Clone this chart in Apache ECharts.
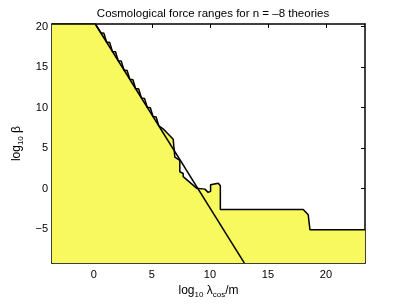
<!DOCTYPE html>
<html>
<head>
<meta charset="utf-8">
<script src="https://cdn.jsdelivr.net/npm/echarts@6/dist/echarts.min.js"></script>
<style>html,body{margin:0;padding:0;background:#fff}#c{width:403px;height:304px}</style>
</head>
<body>
<div id="c"></div>
<script>
// ---- data ----
const xTicks = [0, 5, 10, 15, 20];
const yTicks = [-5, 0, 5, 10, 15, 20];
const xRange = [-3.6, 23.36];
const yRange = [-9.18, 20.33];
// jagged upper edge (along the diagonal)
const upperEdge = [
  [-3.6, 20.33], [0.13, 20.33],
  [0.6, 19.25], [0.87, 19.2], [1.1, 18.10], [1.37, 18.05], [1.6, 16.95], [1.87, 16.9],
  [2.1, 15.80], [2.37, 15.75], [2.6, 14.66], [2.87, 14.6], [3.1, 13.51], [3.37, 13.45],
  [3.6, 12.36], [3.87, 12.3], [4.1, 11.21], [4.37, 11.15], [4.6, 10.06], [4.87, 10.0],
  [5.1, 8.91], [5.37, 8.85], [5.6, 7.76], [6.03, 7.32], [6.84, 6.11], [6.98, 5.92]
];
// lower / right edge of the allowed region
const lowerEdge = [
  [6.98, 3.90], [7.41, 3.50], [7.41, 2.09], [7.70, 1.88], [7.70, 1.49], [8.85, 0.07],
  [9.57, -0.05], [9.85, -0.45], [10.06, -0.33], [10.06, 0.48], [10.23, 0.68],
  [10.72, 0.68], [10.9, 0.36], [10.9, -2.56], [18.04, -2.56], [18.47, -3.22],
  [18.62, -5.07], [23.36, -5.07]
];
// straight diagonal bound
const cutLine = [[0.13, 20.33], [12.97, -9.18]];

const FONT = '"Liberation Sans", Arial, Helvetica, sans-serif';
const fmt = v => String(v).replace('-', '\u2212');
const rich = {
  a: { fontSize: 12, lineHeight: 16, fontFamily: FONT, color: '#000' },
  b: { fontSize: 8, lineHeight: 8, verticalAlign: 'bottom', fontFamily: FONT, color: '#000' }
};

const chart = echarts.init(document.getElementById('c'), null, { renderer: 'canvas' });
const axisLine = { show: true, onZero: false, lineStyle: { color: '#000', width: 1.5 } };
const tick = vals => ({ show: true, inside: true, length: 4, customValues: vals, lineStyle: { color: '#000', width: 1 } });

chart.setOption({
  animation: false,
  backgroundColor: '#fff',
  title: {
    text: 'Cosmological force ranges for n = \u20138 theories',
    left: 208, top: 3, textAlign: 'center',
    textStyle: { fontFamily: FONT, fontSize: 11.5, fontWeight: 'normal', color: '#000' }
  },
  grid: { left: 52, right: 38, top: 24, bottom: 36 },
  xAxis: [
    {
      type: 'value', min: xRange[0], max: xRange[1], position: 'bottom',
      axisLine, axisTick: tick(xTicks), splitLine: { show: false },
      axisLabel: { customValues: xTicks, formatter: fmt, fontFamily: FONT, fontSize: 11, color: '#000', margin: 6 },
      name: '{a|log}{b|10}{a| \u03bb}{b|cos}{a|/m}', nameLocation: 'middle', nameGap: 19,
      nameTextStyle: { rich }
    },
    {
      type: 'value', min: xRange[0], max: xRange[1], position: 'top',
      axisLine, axisTick: tick(xTicks), axisLabel: { show: false }, splitLine: { show: false }
    }
  ],
  yAxis: [
    {
      type: 'value', min: yRange[0], max: yRange[1], position: 'left',
      axisLine, axisTick: tick(yTicks), splitLine: { show: false },
      axisLabel: { customValues: yTicks, formatter: fmt, fontFamily: FONT, fontSize: 11, color: '#000', margin: 4 },
      name: '{a|log}{b|10}{a| \u03b2}', nameLocation: 'middle', nameGap: 23, nameRotate: 90,
      nameTextStyle: { rich }
    },
    {
      type: 'value', min: yRange[0], max: yRange[1], position: 'right',
      axisLine, axisTick: tick(yTicks), axisLabel: { show: false }, splitLine: { show: false }
    }
  ],
  series: [
    {
      type: 'line', data: upperEdge.concat(lowerEdge), symbol: 'none',
      lineStyle: { color: '#000', width: 1.5 },
      areaStyle: { color: '#f8f85f', opacity: 1, origin: 'start' },
      z: 2
    },
    {
      type: 'line', data: cutLine, symbol: 'none',
      lineStyle: { color: '#000', width: 1.5 }, z: 3
    }
  ]
});
</script>
</body>
</html>
